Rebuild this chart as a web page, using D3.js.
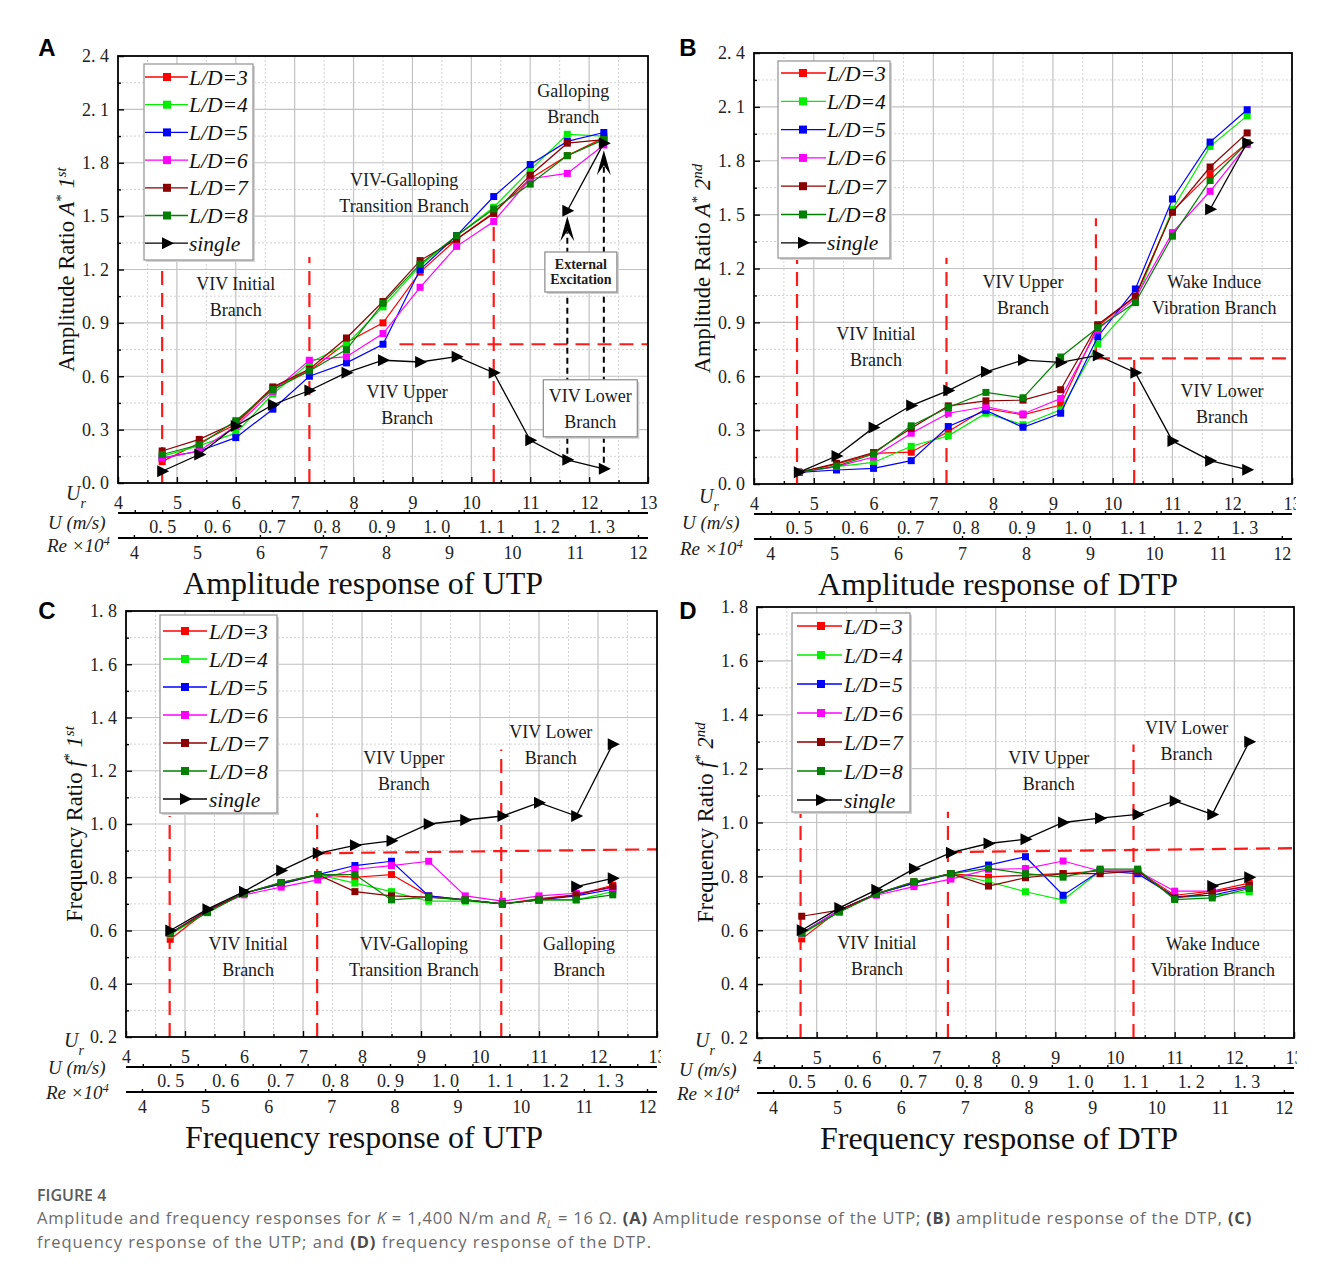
<!DOCTYPE html>
<html>
<head>
<meta charset="utf-8">
<script src="https://cdn.jsdelivr.net/npm/d3@7"></script>
<style>
  body { margin: 0; background: #fff; }
  svg { display: block; }
</style>
</head>
<body>
<svg id="fig" width="1328" height="1276"></svg>
<script>
// ---------- shared axes / categories ----------
const urPoints = [4.75, 5.38, 6.0, 6.63, 7.25, 7.88, 8.5, 9.13, 9.75, 10.38, 11.0, 11.63, 12.25];
const extraUr = [11.63, 12.25];
const seriesNames = ["L/D=3", "L/D=4", "L/D=5", "L/D=6", "L/D=7", "L/D=8", "single"];
const seriesColors = ["#ff0000", "#00ee00", "#0000ff", "#ff00ff", "#8b0000", "#008000", "#000000"];

const urTicks = [4, 5, 6, 7, 8, 9, 10, 11, 12, 13];
const uTicks = [0.5, 0.6, 0.7, 0.8, 0.9, 1.0, 1.1, 1.2, 1.3];
const reTicks = [4, 5, 6, 7, 8, 9, 10, 11, 12];
const ampTicks = [0.0, 0.3, 0.6, 0.9, 1.2, 1.5, 1.8, 2.1, 2.4];
const freqTicks = [0.2, 0.4, 0.6, 0.8, 1.0, 1.2, 1.4, 1.6, 1.8];

// ---------- (A) amplitude, upstream prism ----------
const ampUTP = [
  [0.12, 0.225, 0.33, 0.535, 0.63, 0.79, 0.90, 1.185, 1.37, 1.52, 1.71, 1.84, 1.94],
  [0.15, 0.21, 0.28, 0.50, 0.675, 0.78, 0.99, 1.22, 1.39, 1.55, 1.76, 1.96, 1.95],
  [0.14, 0.18, 0.255, 0.415, 0.60, 0.675, 0.78, 1.20, 1.39, 1.61, 1.79, 1.92, 1.97],
  [0.14, 0.18, 0.32, 0.515, 0.69, 0.71, 0.84, 1.10, 1.33, 1.47, 1.71, 1.74, 1.90],
  [0.18, 0.245, 0.34, 0.54, 0.64, 0.815, 1.02, 1.25, 1.37, 1.515, 1.73, 1.91, 1.93],
  [0.16, 0.215, 0.35, 0.525, 0.63, 0.75, 1.01, 1.23, 1.39, 1.54, 1.68, 1.84, 1.93]
];
const ampUTPSingle = [0.066, 0.16, 0.32, 0.44, 0.52, 0.62, 0.69, 0.68, 0.71, 0.62, 0.24, 0.13, 0.08];
const ampUTPSingleExcited = [1.53, 1.91];

// ---------- (B) amplitude, downstream prism ----------
const ampDTP = [
  [0.065, 0.11, 0.17, 0.177, 0.292, 0.42, 0.385, 0.44, 0.878, 1.045, 1.52, 1.727, 1.90],
  [0.065, 0.097, 0.12, 0.21, 0.268, 0.394, 0.33, 0.413, 0.78, 1.017, 1.53, 1.88, 2.05],
  [0.065, 0.078, 0.087, 0.13, 0.32, 0.41, 0.316, 0.394, 0.82, 1.086, 1.587, 1.904, 2.084],
  [0.065, 0.097, 0.15, 0.283, 0.394, 0.43, 0.39, 0.476, 0.86, 1.035, 1.40, 1.63, 1.89],
  [0.065, 0.115, 0.175, 0.31, 0.435, 0.463, 0.467, 0.525, 0.887, 1.045, 1.513, 1.765, 1.955],
  [0.065, 0.10, 0.167, 0.324, 0.426, 0.51, 0.48, 0.707, 0.87, 1.01, 1.38, 1.69, 1.90]
];
const ampDTPSingle = [0.065, 0.156, 0.314, 0.437, 0.52, 0.625, 0.69, 0.677, 0.716, 0.62, 0.24, 0.13, 0.08];
const ampDTPSingleExcited = [1.53, 1.90];

// ---------- (C) frequency, upstream prism ----------
const freqUTP = [
  [0.567, 0.675, 0.74, 0.775, 0.81, 0.80, 0.81, 0.73, 0.715, 0.70, 0.72, 0.734, 0.77],
  [0.584, 0.67, 0.74, 0.778, 0.81, 0.778, 0.746, 0.71, 0.71, 0.70, 0.715, 0.715, 0.746],
  [0.59, 0.675, 0.74, 0.775, 0.81, 0.844, 0.86, 0.73, 0.715, 0.70, 0.715, 0.73, 0.755],
  [0.59, 0.675, 0.734, 0.763, 0.79, 0.83, 0.844, 0.86, 0.73, 0.71, 0.73, 0.74, 0.76],
  [0.59, 0.675, 0.74, 0.78, 0.81, 0.746, 0.73, 0.725, 0.715, 0.70, 0.715, 0.734, 0.765],
  [0.59, 0.667, 0.74, 0.78, 0.81, 0.81, 0.715, 0.725, 0.715, 0.70, 0.715, 0.715, 0.734]
];
const freqUTPSingle = [0.60, 0.68, 0.746, 0.825, 0.89, 0.92, 0.937, 1.0, 1.015, 1.03, 1.08, 1.03, 1.30];
const freqUTPSingleLow = [0.765, 0.796];

// ---------- (D) frequency, downstream prism ----------
const freqDTP = [
  [0.568, 0.675, 0.735, 0.775, 0.81, 0.797, 0.805, 0.81, 0.82, 0.82, 0.73, 0.745, 0.775],
  [0.584, 0.67, 0.735, 0.775, 0.81, 0.78, 0.743, 0.712, 0.82, 0.82, 0.72, 0.73, 0.743],
  [0.59, 0.675, 0.735, 0.775, 0.81, 0.842, 0.873, 0.73, 0.82, 0.81, 0.725, 0.73, 0.76],
  [0.59, 0.675, 0.73, 0.762, 0.79, 0.826, 0.829, 0.857, 0.82, 0.82, 0.745, 0.745, 0.76],
  [0.652, 0.675, 0.735, 0.78, 0.81, 0.764, 0.795, 0.81, 0.81, 0.82, 0.72, 0.74, 0.766],
  [0.59, 0.667, 0.735, 0.78, 0.81, 0.83, 0.81, 0.797, 0.827, 0.827, 0.714, 0.72, 0.755]
];
const freqDTPSingle = [0.60, 0.683, 0.75, 0.828, 0.888, 0.922, 0.938, 1.0, 1.016, 1.03, 1.08, 1.03, 1.30];
const freqDTPSingleLow = [0.764, 0.797];

// ---------- layout of the four panels ----------
const SERIF = "'Liberation Serif', 'Times New Roman', serif";
const SANS = "'Liberation Sans', Arial, sans-serif";
const TICK = 18;

const panels = [
  {
    letter: "A", letterPos: [47, 48], left: 118, right: 648, top: 56, bottom: 483, clipRight: 670, titleX: 363,
    yTicks: ampTicks, rows: ampUTP, single: ampUTPSingle, extra: ampUTPSingleExcited,
    yTitle: ["Amplitude Ratio  ", "A", "1", "st"], title: "Amplitude response of UTP",
    sub: { urX: 66, urY: 493, uX: 48, uY: 522, reX: 47, reY: 545 },
    legend: { x: 144, y: 64, w: 109, h: 196, row0: 77, step: 27.7, l0: 1, l1: 44, m: 23, t: 45 },
    bounds: [[4.75, 0, 4.75, 1.22], [7.25, 0, 7.25, 1.27], [10.38, 0, 10.38, 1.48], [8.78, 0.78, 13, 0.78]],
    arrows: [{ ur: 11.63, from: 0.13, to: 1.50 }, { ur: 12.25, from: 0.08, to: 1.87 }],
    notes: [
      { ur: 11.73, v: 2.13, lines: ["Galloping", "Branch"] },
      { ur: 8.86, v: 1.633, lines: ["VIV-Galloping", "Transition Branch"] },
      { ur: 6.0, v: 1.045, lines: ["VIV Initial", "Branch"] },
      { ur: 8.91, v: 0.438, lines: ["VIV Upper", "Branch"] },
      { ur: 12.02, v: 0.42, lines: ["VIV Lower", "Branch"], box: [94, 57] },
      { ur: 11.86, v: 1.186, lines: ["External", "Excitation"], box: [72, 40], bold: true, gap: 15, size: 14 }
    ]
  },
  {
    letter: "B", letterPos: [688, 48], left: 754, right: 1292, top: 53, bottom: 484, clipRight: 1296, titleX: 998,
    yTicks: ampTicks, rows: ampDTP, single: ampDTPSingle, extra: ampDTPSingleExcited,
    yTitle: ["Amplitude Ratio  ", "A", "2", "nd"], title: "Amplitude response of DTP",
    sub: { urX: 699, urY: 496, uX: 682, uY: 522, reX: 680, reY: 548 },
    legend: { x: 778, y: 61, w: 112, h: 197, row0: 73, step: 28.3, l0: 3, l1: 48, m: 25, t: 49 },
    bounds: [[4.72, 0, 4.72, 1.25], [7.22, 0, 7.22, 1.26], [9.72, 0.70, 9.72, 1.48], [9.72, 0.70, 13, 0.70], [10.36, 0, 10.36, 0.70]],
    arrows: [],
    notes: [
      { ur: 6.04, v: 0.763, lines: ["VIV Initial", "Branch"] },
      { ur: 8.5, v: 1.055, lines: ["VIV Upper", "Branch"] },
      { ur: 11.7, v: 1.052, lines: ["Wake Induce", "Vibration Branch"] },
      { ur: 11.83, v: 0.445, lines: ["VIV Lower", "Branch"] }
    ]
  },
  {
    letter: "C", letterPos: [47, 611], left: 126, right: 657, top: 611, bottom: 1037, clipRight: 661, titleX: 364,
    yTicks: freqTicks, rows: freqUTP, single: freqUTPSingle, extra: freqUTPSingleLow,
    yTitle: ["Frequency Ratio  ", "f", "1", "st"], title: "Frequency response of UTP",
    sub: { urX: 64, urY: 1040, uX: 48, uY: 1067, reX: 46, reY: 1092 },
    legend: { x: 160, y: 615, w: 117, h: 198, row0: 631, step: 28, l0: 3, l1: 47, m: 25, t: 49 },
    bounds: [[4.74, 0.2, 4.74, 1.03], [7.24, 0.2, 7.24, 1.04], [10.36, 0.2, 10.36, 1.28], [7.24, 0.89, 13, 0.905]],
    arrows: [],
    notes: [
      { ur: 8.71, v: 1.199, lines: ["VIV Upper", "Branch"] },
      { ur: 11.2, v: 1.297, lines: ["VIV Lower", "Branch"] },
      { ur: 6.07, v: 0.501, lines: ["VIV Initial", "Branch"] },
      { ur: 8.88, v: 0.502, lines: ["VIV-Galloping", "Transition Branch"] },
      { ur: 11.68, v: 0.501, lines: ["Galloping", "Branch"] }
    ]
  },
  {
    letter: "D", letterPos: [688, 611], left: 757, right: 1294, top: 607, bottom: 1038, clipRight: 1297, titleX: 999,
    yTicks: freqTicks, rows: freqDTP, single: freqDTPSingle, extra: freqDTPSingleLow,
    yTitle: ["Frequency Ratio ", "f", "2", "nd"], title: "Frequency response of DTP",
    sub: { urX: 695, urY: 1040, uX: 679, uY: 1069, reX: 677, reY: 1093 },
    legend: { x: 792, y: 613, w: 118, h: 199, row0: 626, step: 29, l0: 5, l1: 50, m: 29, t: 52 },
    bounds: [[4.73, 0.2, 4.73, 1.04], [7.2, 0.2, 7.2, 1.04], [10.31, 0.2, 10.31, 1.29], [7.2, 0.89, 13, 0.905]],
    arrows: [],
    notes: [
      { ur: 8.89, v: 1.191, lines: ["VIV Upper", "Branch"] },
      { ur: 11.2, v: 1.302, lines: ["VIV Lower", "Branch"] },
      { ur: 6.01, v: 0.506, lines: ["VIV Initial", "Branch"] },
      { ur: 11.64, v: 0.502, lines: ["Wake Induce", "Vibration Branch"] }
    ]
  }
];

const svg = d3.select("#fig");
const fmtDec = d => d3.format(".1f")(d).replace(".", ". ");
const triPath = "M-5,-6L7,0L-5,6Z";

function styleAxis(sel, size) {
  sel.select(".domain").remove();
  sel.selectAll("line").attr("stroke", "#000").attr("stroke-width", 1.4);
  sel.selectAll("text").attr("font-family", SERIF).attr("font-size", size).attr("fill", "#222");
}

function drawMarker(sel, k, cx, cy, size) {
  if (k === 6) {
    sel.append("path").attr("d", triPath).attr("transform", `translate(${cx},${cy})`).attr("fill", "#000");
  } else {
    const s = size || 7;
    sel.append("rect").attr("x", cx - s / 2).attr("y", cy - s / 2).attr("width", s).attr("height", s)
      .attr("fill", seriesColors[k]);
  }
}

panels.forEach((p, pi) => {
  const clipId = "clip" + pi;
  svg.append("clipPath").attr("id", clipId).append("rect")
    .attr("x", p.left - 120).attr("y", p.top - 60).attr("width", p.clipRight - p.left + 120).attr("height", 700);
  const g = svg.append("g").attr("clip-path", `url(#${clipId})`);

  const x = d3.scaleLinear().domain([urTicks[0], urTicks[urTicks.length - 1]]).range([p.left, p.right]);
  const y = d3.scaleLinear().domain([p.yTicks[0], p.yTicks[p.yTicks.length - 1]]).range([p.bottom, p.top]);

  // grid
  const yStep = p.yTicks[1] - p.yTicks[0];
  const yMinor = p.yTicks.slice(0, -1).map(v => v + yStep / 2);
  const xMinor = urTicks.slice(0, -1).map(v => v + 0.5);
  const grid = g.append("g");
  grid.selectAll(".ymin").data(yMinor).join("line")
    .attr("x1", p.left).attr("x2", p.right).attr("y1", d => y(d)).attr("y2", d => y(d))
    .attr("stroke", "#d2d2d2").attr("stroke-width", 1).attr("stroke-dasharray", "2,2");
  grid.selectAll(".xmin").data(xMinor).join("line")
    .attr("y1", p.top).attr("y2", p.bottom).attr("x1", d => x(d)).attr("x2", d => x(d))
    .attr("stroke", "#d2d2d2").attr("stroke-width", 1).attr("stroke-dasharray", "2,2");
  grid.selectAll(".ymaj").data(p.yTicks.slice(1, -1)).join("line")
    .attr("x1", p.left).attr("x2", p.right).attr("y1", d => y(d)).attr("y2", d => y(d))
    .attr("stroke", "#c2c2c2").attr("stroke-width", 1.2);
  grid.selectAll(".xmaj").data(urTicks.slice(1, -1)).join("line")
    .attr("y1", p.top).attr("y2", p.bottom).attr("x1", d => x(d)).attr("x2", d => x(d))
    .attr("stroke", "#c2c2c2").attr("stroke-width", 1.2);

  // regime boundaries
  g.append("g").selectAll("line").data(p.bounds).join("line")
    .attr("x1", d => x(d[0])).attr("y1", d => y(d[1])).attr("x2", d => x(d[2])).attr("y2", d => y(d[3]))
    .attr("stroke", "#ff1a1a").attr("stroke-width", 2.2).attr("stroke-dasharray", "14,8");

  // frame and Ur / ratio axes
  g.append("rect").attr("x", p.left).attr("y", p.top).attr("width", p.right - p.left).attr("height", p.bottom - p.top)
    .attr("fill", "none").attr("stroke", "#000").attr("stroke-width", 1.8);

  const axB = g.append("g").attr("transform", `translate(0,${p.bottom})`)
    .call(d3.axisBottom(x).tickValues(urTicks).tickSize(-6).tickSizeOuter(0).tickPadding(13).tickFormat(d3.format("d")));
  styleAxis(axB, TICK);
  const axBm = g.append("g").attr("transform", `translate(0,${p.bottom})`)
    .call(d3.axisBottom(x).tickValues(xMinor).tickSize(-3).tickSizeOuter(0).tickFormat(""));
  styleAxis(axBm, TICK);
  const axL = g.append("g").attr("transform", `translate(${p.left},0)`)
    .call(d3.axisLeft(y).tickValues(p.yTicks).tickSize(-6).tickSizeOuter(0).tickPadding(9).tickFormat(fmtDec));
  styleAxis(axL, TICK);
  const axLm = g.append("g").attr("transform", `translate(${p.left},0)`)
    .call(d3.axisLeft(y).tickValues(yMinor).tickSize(-3).tickSizeOuter(0).tickFormat(""));
  styleAxis(axLm, TICK);

  // flow-speed axis U (m/s)
  const uScale = d3.scaleLinear().domain([uTicks[0], uTicks[uTicks.length - 1]]).range([x(4.75), x(12.2)]);
  const uMinor = d3.range(0, 21).map(i => 0.4 + i * 0.05).filter(v => uScale(v) > p.left + 2 && uScale(v) < p.right - 2);
  const uY = p.bottom + 30;
  g.append("line").attr("x1", p.left).attr("x2", p.right).attr("y1", uY).attr("y2", uY).attr("stroke", "#000").attr("stroke-width", 1.8);
  styleAxis(g.append("g").attr("transform", `translate(0,${uY})`)
    .call(d3.axisBottom(uScale).tickValues(uMinor).tickSize(-3).tickSizeOuter(0).tickFormat("")), TICK);
  styleAxis(g.append("g").attr("transform", `translate(0,${uY})`)
    .call(d3.axisBottom(uScale).tickValues(uTicks).tickSize(0).tickSizeOuter(0).tickPadding(7).tickFormat(fmtDec)), TICK);

  // Reynolds-number axis
  const reScale = d3.scaleLinear().domain([reTicks[0], reTicks[reTicks.length - 1]]).range([x(4.27), x(12.83)]);
  const reY = p.bottom + 55;
  g.append("line").attr("x1", p.left).attr("x2", p.right).attr("y1", reY).attr("y2", reY).attr("stroke", "#000").attr("stroke-width", 1.8);
  styleAxis(g.append("g").attr("transform", `translate(0,${reY})`)
    .call(d3.axisBottom(reScale).tickValues(reTicks).tickSize(-3).tickSizeOuter(0).tickPadding(8).tickFormat(d3.format("d"))), TICK);

  // data series
  const dataG = g.append("g");
  const lineGen = d3.line().x(d => x(d[0])).y(d => y(d[1]));
  const allRows = p.rows.concat([p.single]);
  allRows.forEach((vals, k) => {
    const pts = vals.map((v, i) => [urPoints[i], v]);
    dataG.append("path").attr("d", lineGen(pts)).attr("fill", "none")
      .attr("stroke", seriesColors[k]).attr("stroke-width", k === 6 ? 1.3 : 1.2);
    pts.forEach(pt => drawMarker(dataG, k, x(pt[0]), y(pt[1])));
  });
  // secondary branch of the single prism
  const ex = p.extra.map((v, i) => [extraUr[i], v]);
  dataG.append("path").attr("d", lineGen(ex)).attr("fill", "none").attr("stroke", "#000").attr("stroke-width", 1.3);
  ex.forEach(pt => drawMarker(dataG, 6, x(pt[0]), y(pt[1])));

  // excitation arrows
  p.arrows.forEach(a => {
    const tipY = y(a.to);
    g.append("line").attr("x1", x(a.ur)).attr("x2", x(a.ur)).attr("y1", y(a.from) - 6).attr("y2", tipY + 16)
      .attr("stroke", "#000").attr("stroke-width", 2).attr("stroke-dasharray", "6,4");
    g.append("path").attr("d", "M0,0L-7,25L0,15L7,25Z").attr("transform", `translate(${x(a.ur)},${tipY})`).attr("fill", "#000");
  });

  // regime labels
  p.notes.forEach(n => {
    const cx = x(n.ur), cy = y(n.v);
    const gap = n.gap || 26;
    if (n.box) {
      const [w, h] = n.box;
      g.append("rect").attr("x", cx - w / 2 + 2).attr("y", cy - h / 2 + 2).attr("width", w).attr("height", h).attr("fill", "#cfcfcf");
      g.append("rect").attr("x", cx - w / 2).attr("y", cy - h / 2).attr("width", w).attr("height", h)
        .attr("fill", "#fff").attr("stroke", "#8a8a8a").attr("stroke-width", 1.2);
    }
    n.lines.forEach((t, i) => {
      g.append("text").attr("x", cx).attr("y", cy + (i - (n.lines.length - 1) / 2) * gap)
        .attr("dy", "0.35em").attr("text-anchor", "middle")
        .attr("font-family", SERIF).attr("font-size", n.size || 18)
        .attr("font-weight", n.bold ? "bold" : "normal").attr("fill", "#1a1a1a").text(t);
    });
  });

  // legend
  const L = p.legend;
  const lg = g.append("g");
  lg.append("rect").attr("x", L.x + 2).attr("y", L.y + 2).attr("width", L.w).attr("height", L.h).attr("fill", "#d4d4d4");
  lg.append("rect").attr("x", L.x).attr("y", L.y).attr("width", L.w).attr("height", L.h)
    .attr("fill", "#fff").attr("stroke", "#9a9a9a").attr("stroke-width", 1.3);
  seriesNames.forEach((name, k) => {
    const ry = L.row0 + k * L.step;
    lg.append("line").attr("x1", L.x + L.l0).attr("x2", L.x + L.l1).attr("y1", ry).attr("y2", ry)
      .attr("stroke", seriesColors[k]).attr("stroke-width", 1.3);
    drawMarker(lg, k, L.x + L.m, ry, 8);
    lg.append("text").attr("x", L.x + L.t).attr("y", ry).attr("dy", "0.35em")
      .attr("font-family", SERIF).attr("font-style", "italic").attr("font-size", 21.5).attr("fill", "#111").text(name);
  });

  // y-axis title
  const yt = g.append("text").attr("transform", `translate(${p.left - 52},${(p.top + p.bottom) / 2}) rotate(-90)`)
    .attr("text-anchor", "middle").attr("dy", "0.35em")
    .attr("font-family", SERIF).attr("font-size", 22.5).attr("fill", "#111");
  yt.append("tspan").text(p.yTitle[0]);
  yt.append("tspan").attr("font-style", "italic").text(p.yTitle[1]);
  yt.append("tspan").attr("baseline-shift", "super").attr("font-size", 15).text("*");
  yt.append("tspan").text(" ");
  yt.append("tspan").attr("font-style", "italic").text(p.yTitle[2]);
  yt.append("tspan").attr("font-style", "italic").attr("baseline-shift", "super").attr("font-size", 15).text(p.yTitle[3]);

  // secondary axis names
  const s = p.sub;
  const ur = g.append("text").attr("x", s.urX).attr("y", s.urY).attr("dy", "0.35em")
    .attr("font-family", SERIF).attr("font-style", "italic").attr("font-size", 20).attr("fill", "#222");
  ur.append("tspan").text("U");
  ur.append("tspan").attr("baseline-shift", "sub").attr("font-size", 14).text("r");
  g.append("text").attr("x", s.uX).attr("y", s.uY).attr("dy", "0.35em")
    .attr("font-family", SERIF).attr("font-style", "italic").attr("font-size", 19).attr("fill", "#222").text("U (m/s)");
  const re = g.append("text").attr("x", s.reX).attr("y", s.reY).attr("dy", "0.35em")
    .attr("font-family", SERIF).attr("font-style", "italic").attr("font-size", 19).attr("fill", "#222");
  re.append("tspan").text("Re ×10");
  re.append("tspan").attr("baseline-shift", "super").attr("font-size", 12).text("4");

  // panel title
  g.append("text").attr("x", p.titleX).attr("y", p.bottom + 100).attr("dy", "0.35em")
    .attr("text-anchor", "middle").attr("font-family", SERIF).attr("font-size", 32).attr("fill", "#111").text(p.title);

  // panel letter
  svg.append("text").attr("x", p.letterPos[0]).attr("y", p.letterPos[1]).attr("dy", "0.35em")
    .attr("text-anchor", "middle").attr("font-family", SANS).attr("font-weight", "bold").attr("font-size", 24)
    .attr("fill", "#000").text(p.letter);
});

// ---------- figure caption ----------
const CAP = "'Open Sans', 'Noto Sans', sans-serif";
svg.append("text").attr("x", 37).attr("y", 1201).attr("font-family", CAP).attr("font-size", 16)
  .attr("font-weight", 600).attr("fill", "#5a5a5a").text("FIGURE 4");

function captionLine(yPos, parts, targetWidth) {
  const t = svg.append("text").attr("x", 37).attr("y", yPos).attr("font-family", CAP).attr("font-size", 16.5).attr("fill", "#6a6a6a");
  parts.forEach(pt => {
    const ts = t.append("tspan").text(pt.t);
    if (pt.b) ts.attr("font-weight", 700).attr("fill", "#4a4a4a");
    if (pt.i) ts.attr("font-style", "italic");
    if (pt.sub) ts.attr("dy", 4).attr("font-size", 11);
    if (pt.after) ts.attr("dy", -4);
  });
  const w = t.node().getComputedTextLength();
  const n = parts.reduce((a, pt) => a + pt.t.length, 0);
  t.attr("letter-spacing", ((targetWidth - w) / n).toFixed(3));
}
captionLine(1224, [
  { t: "Amplitude and frequency responses for " }, { t: "K", i: true }, { t: " = 1,400 N/m and " },
  { t: "R", i: true }, { t: "L", i: true, sub: true }, { t: " = 16 Ω. ", after: true }, { t: "(A)", b: true },
  { t: " Amplitude response of the UTP; " }, { t: "(B)", b: true }, { t: " amplitude response of the DTP, " },
  { t: "(C)", b: true }
], 1215);
captionLine(1248, [
  { t: "frequency response of the UTP; and " }, { t: "(D)", b: true }, { t: " frequency response of the DTP." }
], 615);
</script>
</body>
</html>
